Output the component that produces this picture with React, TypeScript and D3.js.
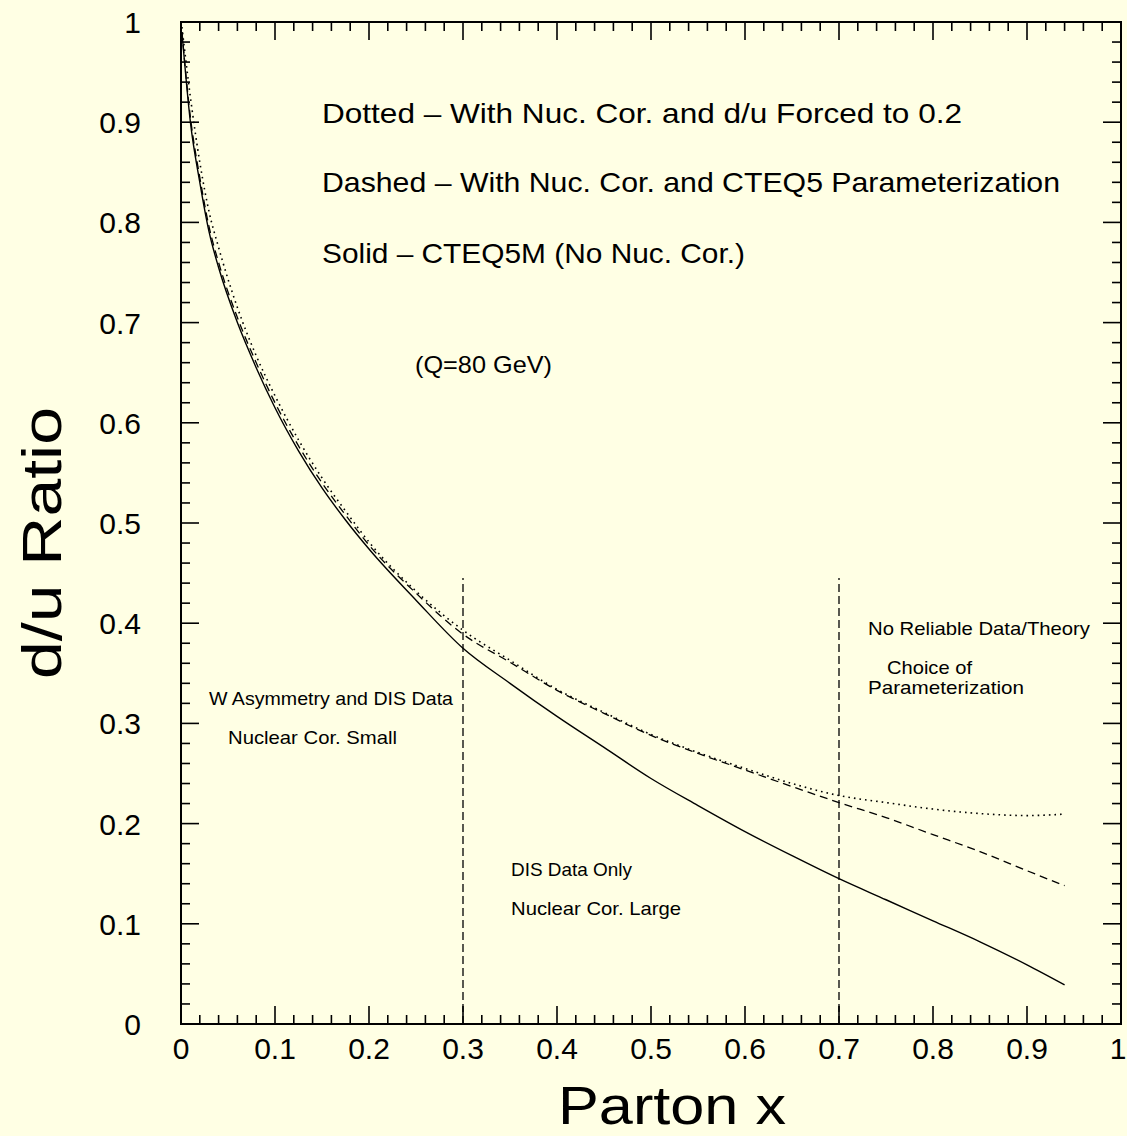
import React from 'react';
import * as d3 from 'd3';

const W = 1127;
const H = 1136;
const FONT = '"Liberation Sans", Arial, sans-serif';

// parton x sample points
const xs = [0.001, 0.01, 0.02, 0.03, 0.04, 0.06, 0.08, 0.1, 0.125, 0.15, 0.175, 0.2, 0.25, 0.3, 0.35, 0.4, 0.45, 0.5, 0.55, 0.6, 0.65, 0.7, 0.75, 0.8, 0.85, 0.9, 0.94];
// CTEQ5M, no nuclear correction
const solid = [0.99, 0.9, 0.84, 0.79, 0.755, 0.7, 0.655, 0.615, 0.572, 0.535, 0.503, 0.474, 0.423, 0.375, 0.34, 0.307, 0.276, 0.245, 0.218, 0.192, 0.168, 0.145, 0.124, 0.103, 0.082, 0.059, 0.039];
// nuc. cor. + CTEQ5 parameterization
const dashed = [0.99, 0.905, 0.845, 0.795, 0.76, 0.705, 0.66, 0.62, 0.577, 0.54, 0.508, 0.478, 0.43, 0.389, 0.361, 0.333, 0.31, 0.288, 0.27, 0.2535, 0.237, 0.221, 0.206, 0.189, 0.172, 0.153, 0.138];
// nuc. cor. + d/u forced to 0.2
const dotted = [0.995, 0.925, 0.86, 0.81, 0.775, 0.715, 0.667, 0.627, 0.583, 0.545, 0.512, 0.481, 0.432, 0.393, 0.363, 0.334, 0.311, 0.289, 0.271, 0.255, 0.24, 0.228, 0.221, 0.2145, 0.21, 0.208, 0.2095];

const regionBounds = [0.3, 0.7];
const regionTop = 0.445;

const tickLabels = ['0', '0.1', '0.2', '0.3', '0.4', '0.5', '0.6', '0.7', '0.8', '0.9', '1'];

const legendLines = [
  { text: 'Dotted \u2013 With Nuc. Cor. and d/u Forced to 0.2', x: 322, y: 123, w: 640 },
  { text: 'Dashed \u2013 With Nuc. Cor. and CTEQ5 Parameterization', x: 322, y: 192, w: 738 },
  { text: 'Solid \u2013 CTEQ5M (No Nuc. Cor.)', x: 322, y: 263, w: 423 },
];

const notes = [
  { text: '(Q=80 GeV)', x: 415, y: 373, w: 137, size: 24 },
  { text: 'W Asymmetry and DIS Data', x: 209, y: 705, w: 244, size: 19 },
  { text: 'Nuclear Cor. Small', x: 228, y: 744, w: 169, size: 19 },
  { text: 'DIS Data Only', x: 511, y: 876, w: 121, size: 19 },
  { text: 'Nuclear Cor. Large', x: 511, y: 915, w: 170, size: 19 },
  { text: 'No Reliable Data/Theory', x: 868, y: 635, w: 222, size: 19 },
  { text: 'Choice of', x: 887, y: 674, w: 85, size: 19 },
  { text: 'Parameterization', x: 868, y: 694, w: 156, size: 19 },
];

export default function App() {
  const left = 181, right = 1121, top = 22, bottom = 1024;
  const x = d3.scaleLinear().domain([0, 1]).range([left, right]);
  const y = d3.scaleLinear().domain([0, 1]).range([bottom, top]);

  const line = d3
    .line<number>()
    .x((_, i) => x(xs[i]))
    .y((d) => y(d))
    .curve(d3.curveMonotoneX);

  const minor = d3.range(0, 51).map((i) => i / 50);
  const major = d3.range(0, 11).map((i) => i / 10);

  return (
    <svg
      width={W}
      height={H}
      style={{ position: 'absolute', left: 0, top: 0, display: 'block' }}
      fontFamily={FONT}
    >
      <rect width={W} height={H} fill="#ffffe4" />

      {/* ticks on all four sides, pointing inward */}
      <g stroke="#000" strokeWidth={1.6}>
        {minor.map((t, i) => {
          const len = i % 5 === 0 ? 18 : 9;
          return (
            <g key={i}>
              <line x1={x(t)} x2={x(t)} y1={bottom} y2={bottom - len} />
              <line x1={x(t)} x2={x(t)} y1={top} y2={top + len} />
              <line x1={left} x2={left + len} y1={y(t)} y2={y(t)} />
              <line x1={right} x2={right - len} y1={y(t)} y2={y(t)} />
            </g>
          );
        })}
      </g>
      <rect x={left} y={top} width={right - left} height={bottom - top} fill="none" stroke="#000" strokeWidth={2} />

      {/* tick labels */}
      <g fontSize={30} fill="#000">
        {major.map((t, i) => (
          <text key={'x' + i} x={Math.min(x(t), W - 9)} y={1059} textAnchor="middle">
            {tickLabels[i]}
          </text>
        ))}
        {major.map((t, i) => (
          <text key={'y' + i} x={141} y={y(t) + 11} textAnchor="end">
            {tickLabels[i]}
          </text>
        ))}
      </g>

      {/* axis titles */}
      <text x={672} y={1124} fontSize={54} textAnchor="middle" textLength={228} lengthAdjust="spacingAndGlyphs">
        Parton x
      </text>
      <text
        transform={`translate(61,${543}) rotate(-90)`}
        fontSize={56}
        textAnchor="middle"
        textLength={272}
        lengthAdjust="spacingAndGlyphs"
      >
        d/u Ratio
      </text>

      {/* region boundaries */}
      {regionBounds.map((b) => (
        <line
          key={b}
          x1={x(b)}
          x2={x(b)}
          y1={y(0)}
          y2={y(regionTop)}
          stroke="#000"
          strokeWidth={1.3}
          strokeDasharray="8,4"
        />
      ))}

      {/* curves */}
      <path d={line(solid) || ''} fill="none" stroke="#000" strokeWidth={1.4} />
      <path d={line(dashed) || ''} fill="none" stroke="#000" strokeWidth={1.3} strokeDasharray="8,5" />
      <path d={line(dotted) || ''} fill="none" stroke="#000" strokeWidth={1.6} strokeDasharray="1.6,4" />

      {/* legend text */}
      <g fontSize={28} fill="#000">
        {legendLines.map((l) => (
          <text key={l.text} x={l.x} y={l.y} textLength={l.w} lengthAdjust="spacingAndGlyphs">
            {l.text}
          </text>
        ))}
      </g>
      <g fill="#000">
        {notes.map((n) => (
          <text key={n.text} x={n.x} y={n.y} fontSize={n.size} textLength={n.w} lengthAdjust="spacingAndGlyphs">
            {n.text}
          </text>
        ))}
      </g>
    </svg>
  );
}
